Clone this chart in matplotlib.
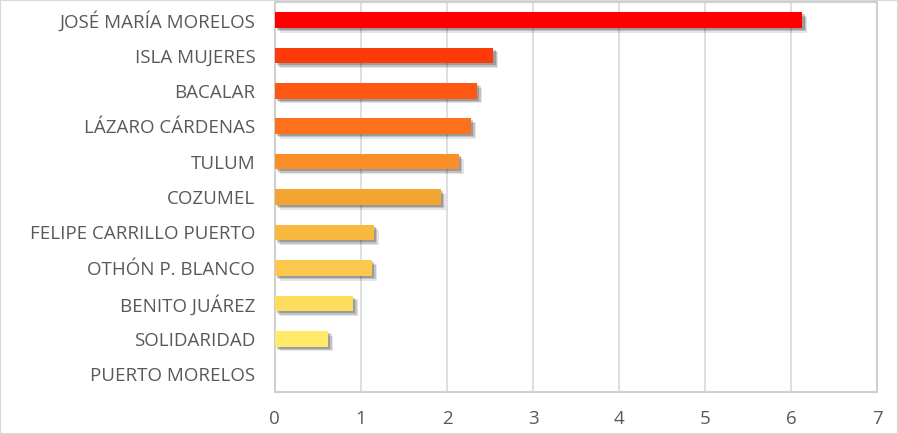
import matplotlib
matplotlib.use("Agg")
import matplotlib.pyplot as plt
import matplotlib.patheffects as pe

categories = ["JOSÉ MARÍA MORELOS", "ISLA MUJERES", "BACALAR", "LÁZARO CÁRDENAS",
              "TULUM", "COZUMEL", "FELIPE CARRILLO PUERTO", "OTHÓN P. BLANCO",
              "BENITO JUÁREZ", "SOLIDARIDAD", "PUERTO MORELOS"]
values = [6.13, 2.54, 2.35, 2.28, 2.14, 1.93, 1.15, 1.13, 0.91, 0.62, 0.0]
colors = ["#FF0000", "#FF3A0A", "#FF5714", "#FD701E", "#F98F26", "#F2A530",
          "#F7B93E", "#FBC84C", "#FEDC5C", "#FFEA6A", "#FFF27A"]
xticks = [0, 1, 2, 3, 4, 5, 6, 7]

plt.rcParams['font.family'] = ['Open Sans', 'DejaVu Sans']
fig = plt.figure(figsize=(8.98, 4.34), dpi=100)
fig.patch.set_facecolor("white")
ax = fig.add_axes([0.306, 0.097, 0.671, 0.898])

y = list(range(len(categories)))
bars = ax.barh(y, values, height=0.44, color=colors, zorder=3)
for b in bars:
    b.set_path_effects([
        pe.SimplePatchShadow(offset=(3.5, -3.5), shadow_rgbFace="black", alpha=0.1),
        pe.SimplePatchShadow(offset=(2.5, -2.5), shadow_rgbFace="black", alpha=0.15),
        pe.SimplePatchShadow(offset=(1.5, -1.5), shadow_rgbFace="black", alpha=0.2),
        pe.Normal()])

ax.set_ylim(len(categories) - 0.5, -0.5)
ax.set_xlim(0, 7)
ax.set_xticks(xticks)
ax.set_xticklabels([str(t) for t in xticks])
ax.set_yticks(y)
ax.set_yticklabels(categories)
ax.tick_params(axis='both', length=0, colors="#595959", labelsize=13.5)
ax.tick_params(axis='x', pad=13)
ax.tick_params(axis='y', pad=14)
ax.grid(axis='x', color="#d9d9d9", linewidth=1.2, zorder=0)
ax.set_axisbelow(True)
for s in ax.spines.values():
    s.set_color("#cfcfcf")
    s.set_linewidth(1.5)

fig.add_artist(plt.Rectangle((0, 0), 1, 1, transform=fig.transFigure,
                             fill=False, edgecolor="#d9d9d9", linewidth=1.5))

fig.savefig("out.png", dpi=100)
